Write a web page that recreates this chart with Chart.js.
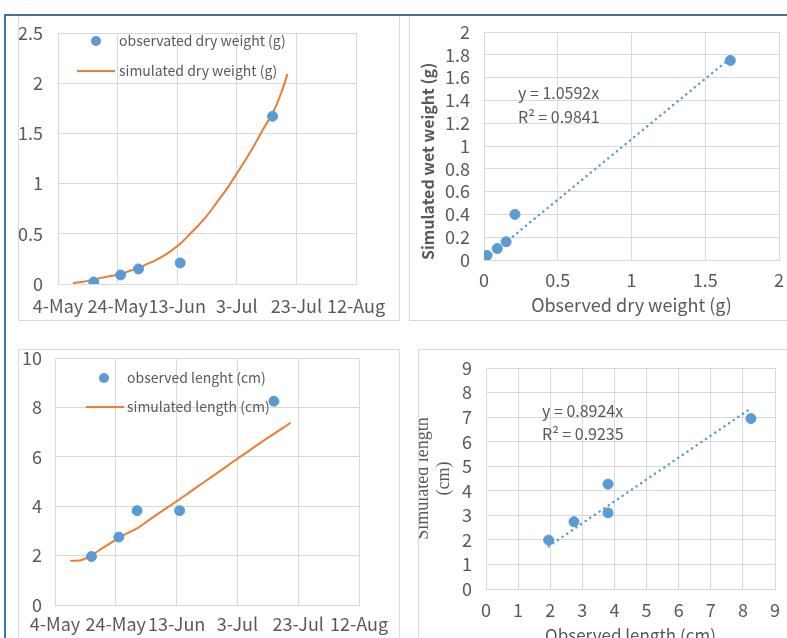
<!DOCTYPE html>
<html>
<head>
<meta charset="utf-8">
<script src="https://cdn.jsdelivr.net/npm/chart.js@4.4.1/dist/chart.umd.min.js"></script>
<style>
	html, body { margin: 0; padding: 0; background: #fff; overflow: hidden; width: 787px; height: 638px; }
	.panel { position: absolute; box-sizing: border-box; border: 1px solid #d9d9d9; background: #fff; }
	.panel canvas { position: absolute; left: 0; top: 0; }
	.frame { position: absolute; background: #44729f; z-index: 5; }
</style>
</head>
<body>
<div class="panel" style="left:18px;top:14px;width:382px;height:307px"><canvas id="dryTime" width="380" height="305"></canvas></div>
<div class="panel" style="left:409px;top:14px;width:380px;height:307px"><canvas id="dryFit" width="378" height="305"></canvas></div>
<div class="panel" style="left:18px;top:349px;width:382px;height:300px"><canvas id="lenTime" width="380" height="288"></canvas></div>
<div class="panel" style="left:418px;top:349px;width:380px;height:310px"><canvas id="lenFit" width="378" height="300"></canvas></div>
<div class="frame" style="left:4px;top:14px;width:783px;height:2px"></div>
<div class="frame" style="left:4px;top:14px;width:2px;height:624px"></div>
<script>
'use strict';

// x axis of the time charts: days counted from 4 May
var dateTicks = ['4-May', '24-May', '13-Jun', '3-Jul', '23-Jul', '12-Aug'];
var obsDays = [12, 21, 27, 41, 72];
var obsDryWeight = [0.02, 0.09, 0.15, 0.21, 1.67];
var obsLength = [1.96, 2.75, 3.82, 3.82, 8.25];

var simDays = [5, 8, 12, 16, 21, 24, 27, 30, 33, 37, 41, 44, 47, 50, 53, 56, 60, 63, 66, 69, 72, 75, 77];
var simDryWeight = [0.01, 0.02, 0.045, 0.07, 0.10, 0.13, 0.16, 0.20, 0.24, 0.31, 0.40, 0.49, 0.58, 0.68, 0.80, 0.92, 1.10, 1.24, 1.39, 1.55, 1.70, 1.91, 2.09];
var simLenDays = [5, 8, 12, 16, 21, 24, 27, 30, 33, 37, 41, 44, 47, 50, 54, 57, 60, 63, 66, 69, 72, 75, 77.5];
var simLength = [1.79, 1.80, 2.02, 2.33, 2.72, 2.92, 3.10, 3.36, 3.62, 3.95, 4.28, 4.54, 4.80, 5.06, 5.40, 5.66, 5.92, 6.17, 6.43, 6.68, 6.93, 7.17, 7.38];

// observed vs simulated
var fitDryObs = [0.02, 0.09, 0.15, 0.21, 1.67];
var fitDrySim = [0.04, 0.10, 0.16, 0.40, 1.75];
var trendDryX = [0.02, 1.67];
var trendDryY = [0.02, 1.77];
var trendDryText = ['y = 1.0592x', 'R² = 0.9841'];

var fitLenObs = [1.95, 2.74, 3.80, 3.80, 8.25];
var fitLenSim = [1.99, 2.74, 4.27, 3.10, 6.94];
var trendLenX = [1.95, 8.25];
var trendLenY = [1.74, 7.36];
var trendLenText = ['y = 0.8924x', 'R² = 0.9235'];

var FONT = '"Noto Sans CJK SC", "Noto Sans", sans-serif';
var TEXT = '#595959';
var GRID = '#d9d9d9';
var BLUE = '#5b9bd5';
var ORANGE = '#ed7d31';

function pts(xs, ys) {
	var out = [];
	for (var i = 0; i < xs.length; i++) {
		out.push({ x: xs[i], y: ys[i] });
	}
	return out;
}

function num(v) {
	return String(Math.round(v * 10) / 10);
}

// legend drawn inside the plot, under the marks
var legendInside = {
	id: 'legendInside',
	beforeDatasetsDraw: function (chart, args, opts) {
		var ctx = chart.ctx;
		ctx.save();
		ctx.font = opts.font;
		ctx.textBaseline = 'middle';
		ctx.textAlign = 'left';
		chart.data.datasets.forEach(function (ds, i) {
			var y = opts.y + i * opts.rowGap;
			if (ds.showLine) {
				ctx.strokeStyle = ds.borderColor;
				ctx.lineWidth = 2;
				ctx.beginPath();
				ctx.moveTo(opts.lineX0, y);
				ctx.lineTo(opts.lineX1, y);
				ctx.stroke();
			} else {
				ctx.fillStyle = ds.backgroundColor;
				ctx.beginPath();
				ctx.arc(opts.dotX, y, 5, 0, Math.PI * 2);
				ctx.fill();
			}
			ctx.fillStyle = TEXT;
			ctx.fillText(ds.label, opts.textX, y);
		});
		ctx.restore();
	}
};

// trendline equation
var noteText = {
	id: 'noteText',
	afterDatasetsDraw: function (chart, args, opts) {
		var ctx = chart.ctx;
		ctx.save();
		ctx.font = opts.font;
		ctx.fillStyle = TEXT;
		ctx.textBaseline = 'middle';
		ctx.textAlign = 'left';
		opts.lines.forEach(function (t, i) {
			ctx.fillText(t, opts.x, opts.y + i * opts.gap);
		});
		ctx.restore();
	}
};

function tickFont(size) {
	return { family: FONT, size: size, lineHeight: 1 };
}

function xScale(min, max, step, pad, height, fmt, title) {
	return {
		type: 'linear', min: min, max: max,
		ticks: { stepSize: step, autoSkip: false, maxRotation: 0, minRotation: 0, padding: pad, color: TEXT, font: tickFont(18), callback: fmt },
		grid: { color: GRID, drawTicks: false },
		border: { color: GRID },
		title: title || { display: false },
		afterFit: function (s) {
			s.height = height;
			s.paddingLeft = 0;
			s.paddingRight = 0;
		}
	};
}

function yScale(min, max, step, pad, width, fmt, title) {
	return {
		type: 'linear', min: min, max: max,
		ticks: { stepSize: step, padding: pad, color: TEXT, font: tickFont(18), callback: fmt },
		grid: { color: GRID, drawTicks: false },
		border: { color: GRID },
		title: title || { display: false },
		afterFit: function (s) {
			s.width = width;
			s.paddingTop = 0;
			s.paddingBottom = 0;
		}
	};
}

function baseOptions(padding, scales, plugins) {
	plugins.legend = { display: false };
	plugins.tooltip = { enabled: false };
	return {
		responsive: false,
		animation: false,
		devicePixelRatio: 1,
		layout: { padding: padding },
		scales: scales,
		plugins: plugins
	};
}

function dateLabel(v) {
	return dateTicks[Math.round(v / 20)];
}

new Chart(document.getElementById('dryTime'), {
	type: 'scatter',
	data: {
		datasets: [
			{ label: 'observated dry weight (g)', data: pts(obsDays, obsDryWeight), backgroundColor: BLUE, borderColor: BLUE, pointRadius: 5, borderWidth: 1, order: 0 },
			{ label: 'simulated dry weight (g)', data: pts(simDays, simDryWeight), showLine: true, borderColor: ORANGE, backgroundColor: ORANGE, borderWidth: 2, pointRadius: 0, cubicInterpolationMode: 'monotone', order: 1 }
		]
	},
	options: baseOptions({ top: 18, right: 43, left: 0, bottom: 0 }, {
		x: xScale(0, 100, 20, 13, 36, dateLabel),
		y: yScale(0, 2.5, 0.5, 15, 39, num)
	}, {
		legendInside: { font: '14px ' + FONT, dotX: 77, lineX0: 58, lineX1: 96, textX: 100, y: 26, rowGap: 30 }
	}),
	plugins: [legendInside]
});

new Chart(document.getElementById('dryFit'), {
	type: 'scatter',
	data: {
		datasets: [
			{ label: 'dry weight', data: pts(fitDryObs, fitDrySim), backgroundColor: BLUE, borderColor: BLUE, pointRadius: 5, borderWidth: 1, order: 0 },
			{ label: 'trend', data: pts(trendDryX, trendDryY), showLine: true, borderColor: BLUE, borderWidth: 2.5, borderDash: [0.1, 5.5], borderCapStyle: 'round', pointRadius: 0, order: 1 }
		]
	},
	options: baseOptions({ top: 17, right: 9, left: 0, bottom: 0 }, {
		x: xScale(0, 2, 0.5, 11, 60, num, { display: true, text: 'Observed dry weight (g)', color: TEXT, font: { family: FONT, size: 18 }, padding: { top: 0, bottom: 4 } }),
		y: yScale(0, 2, 0.2, 14, 74, num, { display: true, text: 'Simulated wet weight (g)', align: 'start', color: TEXT, font: { family: FONT, size: 16, weight: 'bold' }, padding: { top: 8, bottom: 0 } })
	}, {
		noteText: { font: '16px ' + FONT, lines: trendDryText, x: 108, y: 78, gap: 24 }
	}),
	plugins: [noteText]
});

new Chart(document.getElementById('lenTime'), {
	type: 'scatter',
	data: {
		datasets: [
			{ label: 'observed lenght (cm)', data: pts(obsDays, obsLength), backgroundColor: BLUE, borderColor: BLUE, pointRadius: 5, borderWidth: 1, order: 0 },
			{ label: 'simulated length (cm)', data: pts(simLenDays, simLength), showLine: true, borderColor: ORANGE, backgroundColor: ORANGE, borderWidth: 2, pointRadius: 0, cubicInterpolationMode: 'monotone', order: 1 }
		]
	},
	options: baseOptions({ top: 8, right: 40, left: 0, bottom: 0 }, {
		x: xScale(0, 100, 20, 10, 33, dateLabel),
		y: yScale(0, 10, 2, 13, 36, num)
	}, {
		legendInside: { font: '14px ' + FONT, dotX: 85, lineX0: 67, lineX1: 105, textX: 108, y: 28, rowGap: 29 }
	}),
	plugins: [legendInside]
});

new Chart(document.getElementById('lenFit'), {
	type: 'scatter',
	data: {
		datasets: [
			{ label: 'length', data: pts(fitLenObs, fitLenSim), backgroundColor: BLUE, borderColor: BLUE, pointRadius: 5, borderWidth: 1, order: 0 },
			{ label: 'trend', data: pts(trendLenX, trendLenY), showLine: true, borderColor: BLUE, borderWidth: 2.5, borderDash: [0.1, 5.5], borderCapStyle: 'round', pointRadius: 0, order: 1 }
		]
	},
	options: baseOptions({ top: 18, right: 22, left: 0, bottom: 0 }, {
		x: xScale(0, 9, 1, 12, 61, num, { display: true, text: 'Observed length (cm)', color: TEXT, font: { family: FONT, size: 17 }, padding: { top: 0, bottom: 4 } }),
		y: yScale(0, 9, 1, 14, 67, num, { display: true, text: ['Simulated length', '(cm)'], color: TEXT, font: { family: '"Liberation Serif", serif', size: 18 }, padding: { top: -7, bottom: 0 } })
	}, {
		noteText: { font: '16px ' + FONT, lines: trendLenText, x: 123, y: 61, gap: 23 }
	}),
	plugins: [noteText]
});
</script>
</body>
</html>
